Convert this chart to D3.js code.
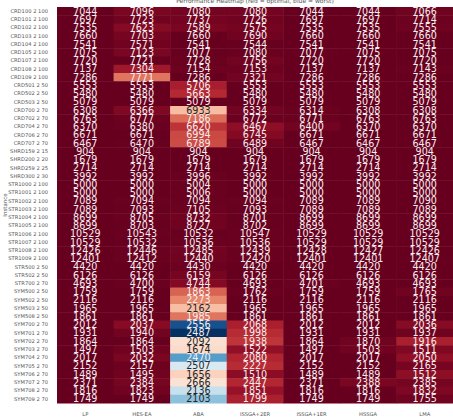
<!DOCTYPE html>
<html>
<head>
<meta charset="utf-8">
<script src="https://cdn.jsdelivr.net/npm/d3@7"></script>
<style>
  body { margin: 0; background: #fff; }
  svg text { font-family: "DejaVu Sans", sans-serif; }
</style>
</head>
<body>
<div id="chart"></div>
<script>
// algorithms (columns)
const algorithms = ["LP", "HES-EA", "ABA", "ISSGA+2ER", "ISSGA+1ER", "HSSGA", "LMA"];

// instances (rows)
const instances = [
  "CRD100 2 100", "CRD101 2 100", "CRD102 2 100", "CRD103 2 100", "CRD104 2 100",
  "CRD105 2 100", "CRD107 2 100", "CRD108 2 100", "CRD109 2 100",
  "CRD501 2 50", "CRD502 2 50", "CRD503 2 50",
  "CRD700 2 70", "CRD702 2 70", "CRD704 2 70", "CRD706 2 70", "CRD707 2 70",
  "SHRD159 2 15", "SHRD200 2 20", "SHRD259 2 25", "SHRD300 2 30",
  "STR1000 2 100", "STR1001 2 100", "STR1002 2 100", "STR1003 2 100", "STR1004 2 100",
  "STR1005 2 100", "STR1006 2 100", "STR1007 2 100", "STR1008 2 100", "STR1009 2 100",
  "STR500 2 50", "STR502 2 50", "STR700 2 70",
  "SYM500 2 50", "SYM502 2 50", "SYM503 2 50", "SYM508 2 50",
  "SYM700 2 70", "SYM701 2 70", "SYM702 2 70", "SYM703 2 70", "SYM704 2 70",
  "SYM705 2 70", "SYM706 2 70", "SYM707 2 70", "SYM708 2 70", "SYM709 2 70"
];

// results, one row per instance, in algorithm order
const results = [
  [7044, 7096, 7080, 7080, 7044, 7044, 7066],
  [7697, 7723, 7737, 7726, 7697, 7697, 7714],
  [7535, 7623, 7589, 7575, 7535, 7535, 7555],
  [7660, 7703, 7660, 7690, 7660, 7660, 7660],
  [7541, 7571, 7541, 7544, 7541, 7541, 7541],
  [7075, 7123, 7077, 7080, 7077, 7075, 7075],
  [7720, 7721, 7728, 7756, 7720, 7720, 7720],
  [7137, 7304, 7154, 7153, 7137, 7137, 7143],
  [7286, 7771, 7286, 7321, 7286, 7286, 7286],
  [5553, 5553, 5706, 5553, 5553, 5553, 5553],
  [5480, 5480, 5663, 5480, 5480, 5480, 5480],
  [5079, 5079, 5079, 5079, 5079, 5079, 5079],
  [6308, 6366, 6933, 6334, 6314, 6308, 6308],
  [6763, 6777, 7186, 6772, 6771, 6763, 6763],
  [6370, 6380, 6620, 6467, 6400, 6370, 6370],
  [6671, 6671, 6994, 6745, 6671, 6671, 6671],
  [6467, 6470, 6789, 6489, 6467, 6467, 6467],
  [904, 904, 904, 904, 904, 904, 904],
  [1679, 1679, 1679, 1679, 1679, 1679, 1679],
  [2714, 2714, 2714, 2714, 2714, 2714, 2714],
  [3992, 3992, 3996, 3992, 3992, 3992, 3992],
  [5000, 5000, 5004, 5000, 5000, 5000, 5000],
  [5000, 5000, 5006, 5000, 5000, 5000, 5000],
  [7089, 7094, 7094, 7094, 7089, 7089, 7090],
  [7089, 7093, 7105, 7093, 7089, 7089, 7089],
  [8699, 8705, 8732, 8701, 8699, 8699, 8699],
  [8699, 8703, 8727, 8702, 8699, 8699, 8699],
  [10529, 10543, 10532, 10547, 10529, 10529, 10529],
  [10529, 10532, 10536, 10536, 10529, 10529, 10529],
  [12426, 12446, 12485, 12439, 12428, 12427, 12426],
  [12401, 12412, 12440, 12420, 12401, 12401, 12407],
  [4420, 4420, 4430, 4420, 4420, 4420, 4420],
  [6126, 6126, 6159, 6126, 6126, 6126, 6126],
  [4693, 4700, 4744, 4693, 4701, 4693, 4693],
  [1759, 1759, 1863, 1762, 1759, 1759, 1765],
  [2116, 2116, 2273, 2116, 2116, 2116, 2116],
  [1965, 1965, 2162, 1965, 1965, 1965, 1965],
  [1861, 1861, 1985, 1861, 1861, 1861, 1861],
  [2012, 2037, 2556, 2068, 2012, 2012, 2036],
  [1931, 1940, 2487, 1998, 1931, 1931, 1937],
  [1864, 1864, 2092, 1938, 1864, 1870, 1916],
  [1497, 1503, 1674, 1522, 1497, 1503, 1511],
  [2017, 2032, 2470, 2080, 2017, 2017, 2050],
  [2152, 2157, 2507, 2227, 2152, 2152, 2165],
  [1489, 1495, 1656, 1510, 1489, 1489, 1512],
  [2371, 2384, 2666, 2447, 2371, 2388, 2385],
  [1816, 1823, 2136, 1851, 1816, 1816, 1832],
  [1749, 1749, 2103, 1799, 1749, 1749, 1755]
];

const margin = {top: 7, right: 0, bottom: 14, left: 57};
const W = 453, H = 417;
const width = W - margin.left - margin.right;
const height = 396;

const svg = d3.select("#chart").append("svg")
  .attr("width", W)
  .attr("height", H);

const chart = svg.append("g")
  .attr("transform", `translate(${margin.left},${margin.top})`);

const x = d3.scaleBand().domain(algorithms).range([0, width]);
const y = d3.scaleBand().domain(instances).range([0, height]);

// gap to the best value of the row, colour by gap
const cells = [];
results.forEach((row, i) => {
  const best = d3.min(row);
  row.forEach((v, j) => {
    cells.push({inst: instances[i], alg: algorithms[j], value: v, gap: (v - best) / best});
  });
});
const maxGap = d3.max(cells, d => d.gap);
const color = d3.scaleSequential(d3.interpolateRdBu).domain([0, maxGap]);

function lum(c) {
  const rgb = d3.rgb(c);
  const f = u => { u /= 255; return u <= 0.03928 ? u / 12.92 : Math.pow((u + 0.055) / 1.055, 2.4); };
  return 0.2126 * f(rgb.r) + 0.7152 * f(rgb.g) + 0.0722 * f(rgb.b);
}

chart.selectAll(".cell")
  .data(cells)
  .join("rect")
  .attr("class", "cell")
  .attr("x", d => x(d.alg))
  .attr("y", d => y(d.inst))
  .attr("width", x.bandwidth() + 0.5)
  .attr("height", y.bandwidth() + 0.5)
  .attr("fill", d => color(d.gap));

chart.selectAll(".lbl")
  .data(cells)
  .join("text")
  .attr("class", "lbl")
  .attr("x", d => x(d.alg) + x.bandwidth() / 2)
  .attr("y", d => y(d.inst) + y.bandwidth() / 2)
  .attr("dy", "0.36em")
  .attr("text-anchor", "middle")
  .attr("font-size", 9.6)
  .attr("fill", d => lum(color(d.gap)) > 0.408 ? "#262626" : "#f6eef0")
  .text(d => d.value);

// axes
const yAxis = d3.axisLeft(y).tickSize(0).tickPadding(9);
const yG = chart.append("g").call(yAxis);
yG.select(".domain").remove();
yG.selectAll("text").attr("font-size", 5.2).attr("fill", "#555");

const xAxis = d3.axisBottom(x).tickSize(0).tickPadding(9);
const xG = chart.append("g")
  .attr("transform", `translate(0,${height})`)
  .call(xAxis);
xG.select(".domain").remove();
xG.selectAll("text").attr("font-size", 5.2).attr("fill", "#555");

// axis title
svg.append("text")
  .attr("transform", `translate(7,${margin.top + height / 2}) rotate(-90)`)
  .attr("text-anchor", "middle")
  .attr("font-size", 5.5)
  .attr("fill", "#555")
  .text("Instance");

// title (mostly cut off at the top)
svg.append("text")
  .attr("x", margin.left + width / 2)
  .attr("y", 2.5)
  .attr("text-anchor", "middle")
  .attr("font-size", 6)
  .attr("fill", "#555")
  .text("Performance Heatmap (red = optimal, blue = worst)");
</script>
</body>
</html>
